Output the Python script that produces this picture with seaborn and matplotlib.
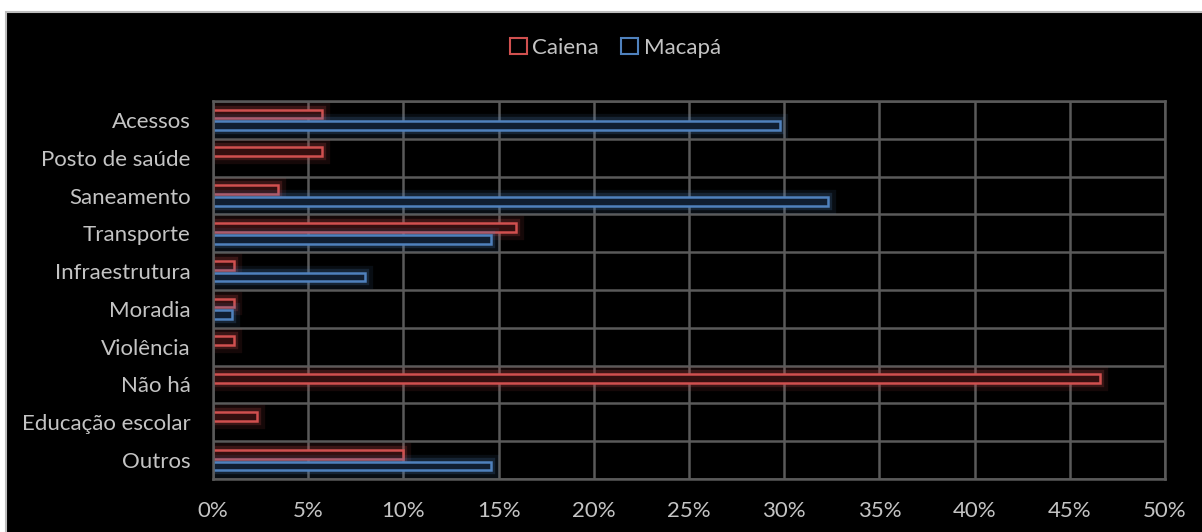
import matplotlib
matplotlib.use("Agg")
import matplotlib.pyplot as plt
import matplotlib.patheffects as pe
from matplotlib.patches import Patch, Rectangle
from matplotlib.ticker import FuncFormatter
import numpy as np
import pandas as pd
import seaborn as sns

categorias = ["Acessos", "Posto de saúde", "Saneamento", "Transporte", "Infraestrutura",
              "Moradia", "Violência", "Não há", "Educação escolar", "Outros"]
caiena = [5.7, 5.7, 3.4, 15.9, 1.1, 1.1, 1.1, 46.6, 2.3, 10.0]
macapa = [29.8, 0.0, 32.3, 14.6, 8.0, 1.0, 0.0, 0.0, 0.0, 14.6]
cidades = ["Caiena", "Macapá"]
xticks = list(range(0, 55, 5))

df = pd.DataFrame({
    "Categoria": categorias * 2,
    "Cidade": [cidades[0]] * len(categorias) + [cidades[1]] * len(categorias),
    "Valor": caiena + macapa,
})

bg = "#000000"
text_c = "#c4c4c4"
grid_c = "#5a5a5a"
edge = {"Caiena": "#d0504f", "Macapá": "#4f81bd"}
fill = {"Caiena": "#3a0909", "Macapá": "#0a1d36"}

sns.set_style("dark", rc={"axes.facecolor": bg, "figure.facecolor": "white"})
plt.rcParams["font.family"] = ["Lato", "DejaVu Sans"]

W, H = 1202, 532
fig = plt.figure(figsize=(W / 100, H / 100), dpi=100)

# black chart panel with a thin grey frame on a white page
fig.patches.append(Rectangle((6 / W, -0.02), 1 - 6 / W + 0.02, 1 - 12 / H + 0.02,
                             transform=fig.transFigure, facecolor=bg,
                             edgecolor="#bdbdbd", linewidth=1.5, zorder=-10))

ax = fig.add_axes([213 / W, 1 - 479 / H, (1165 - 213) / W, (479 - 101) / H])
ax.set_zorder(1)

sns.barplot(data=df, y="Categoria", x="Valor", hue="Cidade", order=categorias,
            hue_order=cidades, palette=fill, orient="h", width=0.62, gap=0.25,
            legend=False, ax=ax, linewidth=0)

for cont, cidade in zip(ax.containers, cidades):
    col = edge[cidade]
    for bar in cont:
        if bar.get_width() <= 0:
            bar.set_visible(False)
            continue
        bar.set_edgecolor(col)
        bar.set_linewidth(1.8)
        bar.set_path_effects([
            pe.Stroke(linewidth=11, foreground=col, alpha=0.10),
            pe.Stroke(linewidth=6, foreground=col, alpha=0.20),
            pe.Normal(),
        ])

ax.set_xlim(0, 50)
ax.set_ylim(len(categorias) - 0.5, -0.5)
ax.set_xticks(xticks)
ax.xaxis.set_major_formatter(FuncFormatter(lambda v, p: f"{v:.0f}%"))
ax.set_yticks(np.arange(-0.5, len(categorias), 1.0), minor=True)
ax.grid(False)
ax.grid(True, axis="x", which="major", color=grid_c, linewidth=1.8)
ax.grid(True, axis="y", which="minor", color=grid_c, linewidth=1.8)
ax.set_axisbelow(True)
for s in ax.spines.values():
    s.set_visible(True)
    s.set_color(grid_c)
    s.set_linewidth(1.8)

ax.set_xlabel("")
ax.set_ylabel("")
ax.tick_params(axis="both", which="both", length=0, colors=text_c, labelsize=16)
ax.tick_params(axis="y", pad=16)
ax.tick_params(axis="x", pad=16)

handles = [Patch(facecolor="none", edgecolor=edge[c], linewidth=1.5, label=c) for c in cidades]
fig.legend(handles=handles, loc="center", bbox_to_anchor=(0.512, 0.91), ncol=2,
           frameon=False, fontsize=16, labelcolor=text_c, handlelength=0.75,
           handleheight=0.75, handletextpad=0.25, columnspacing=1.0)

fig.savefig("out.png", dpi=100, facecolor="white")
